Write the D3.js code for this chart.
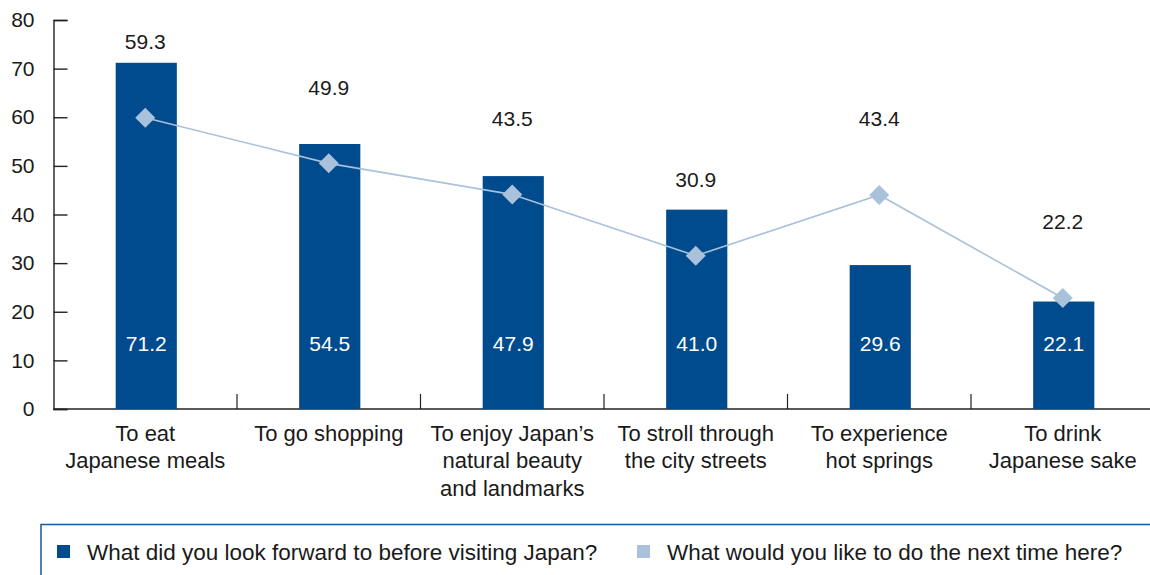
<!DOCTYPE html>
<html>
<head>
<meta charset="utf-8">
<script src="https://cdn.jsdelivr.net/npm/d3@7"></script>
<style>
  body { margin: 0; background: #fff; }
  svg text { font-family: "Liberation Sans", Arial, sans-serif; fill: #1a1a1a; }
</style>
</head>
<body>
<div id="chart"></div>
<script>
// categories (multi-line labels)
const categories = [
    ["To eat", "Japanese meals"],
    ["To go shopping"],
    ["To enjoy Japan\u2019s", "natural beauty", "and landmarks"],
    ["To stroll through", "the city streets"],
    ["To experience", "hot springs"],
    ["To drink", "Japanese sake"]
];
const beforeVisit = [71.2, 54.5, 47.9, 41.0, 29.6, 22.1];
const nextTime = [59.3, 49.9, 43.5, 30.9, 43.4, 22.2];
const yTicks = [0, 10, 20, 30, 40, 50, 60, 70, 80];
const seriesNames = ["What did you look forward to before visiting Japan?", "What would you like to do the next time here?"];

const barColor = "#004b8d",
    lineColor = "#a9c1da";

var width = 1150, height = 575;

const svg = d3.select("#chart").append("svg")
    .attr("width", width)
    .attr("height", height);

var x = d3.scaleBand()
    .range([53.5, 1154.5])
    .domain(d3.range(categories.length));

var y = d3.scaleLinear()
    .range([409, 20])
    .domain([0, 80]);

// y axis, ticks pointing inwards
const yAxis = svg.append("g")
    .attr("transform", "translate(53.5,0)")
    .call(d3.axisLeft(y).tickValues(yTicks).tickSize(-14).tickFormat(d3.format("d")));
yAxis.select(".domain").attr("stroke", "#222").attr("stroke-width", 1.4);
yAxis.selectAll(".tick line").attr("stroke", "#222").attr("stroke-width", 1.4);
yAxis.selectAll(".tick text").attr("font-size", 21).attr("fill", "#1a1a1a")
    .attr("text-anchor", "end").attr("x", -19);

// x axis line + separator ticks
svg.append("line")
    .attr("x1", 53.5).attr("x2", width)
    .attr("y1", y(0)).attr("y2", y(0))
    .attr("stroke", "#222").attr("stroke-width", 1.4);

svg.selectAll(".sep")
    .data(d3.range(1, categories.length))
    .enter()
    .append("line")
    .attr("x1", d => x(d)).attr("x2", d => x(d))
    .attr("y1", y(0) - 15).attr("y2", y(0))
    .attr("stroke", "#222").attr("stroke-width", 1.2);

// bars
const barW = x.bandwidth() / 3;
svg.selectAll(".bar")
    .data(beforeVisit)
    .enter()
    .append("rect")
    .attr("class", "bar")
    .attr("x", (d, i) => x(i) + x.bandwidth() / 2 - barW / 2 + 1)
    .attr("width", barW)
    .attr("y", d => y(d))
    .attr("height", d => y(0) - y(d))
    .attr("fill", barColor);

// value labels inside bars
svg.selectAll(".barlabel")
    .data(beforeVisit)
    .enter()
    .append("text")
    .attr("x", (d, i) => x(i) + x.bandwidth() / 2 + 1)
    .attr("y", y(13.4))
    .attr("dy", "0.35em")
    .attr("text-anchor", "middle")
    .attr("font-size", 21)
    .style("fill", "#fff")
    .text(d => d.toFixed(1));

// line series
const cx = i => x(i) + x.bandwidth() / 2;
svg.append("path")
    .datum(nextTime)
    .attr("fill", "none")
    .attr("stroke", lineColor)
    .attr("stroke-width", 1.6)
    .attr("d", d3.line().x((d, i) => cx(i)).y(d => y(d) - 3));

svg.selectAll(".marker")
    .data(nextTime)
    .enter()
    .append("path")
    .attr("d", d3.symbol().type(d3.symbolSquare).size(200))
    .attr("transform", (d, i) => "translate(" + cx(i) + "," + (y(d) - 3) + ") rotate(45)")
    .attr("fill", lineColor);

// line labels, placed well above the points
svg.selectAll(".linelabel")
    .data(nextTime)
    .enter()
    .append("text")
    .attr("x", (d, i) => cx(i))
    .attr("y", d => y(d) - 79)
    .attr("dy", "0.35em")
    .attr("text-anchor", "middle")
    .attr("font-size", 21)
    .text(d => d.toFixed(1));

// category labels
const cat = svg.selectAll(".cat")
    .data(categories)
    .enter()
    .append("text")
    .attr("text-anchor", "middle")
    .attr("font-size", 22)
    .attr("transform", (d, i) => "translate(" + cx(i) + ",433)");
cat.selectAll("tspan")
    .data(d => d)
    .enter()
    .append("tspan")
    .attr("x", 0)
    .attr("y", (d, i) => i * 27.5)
    .attr("dy", "0.35em")
    .text(d => d);

// legend box
svg.append("path")
    .attr("d", "M41,576 V524.5 H" + width)
    .attr("fill", "none")
    .attr("stroke", "#1a56a0")
    .attr("stroke-width", 1.5);

const legendX = [57, 637];
const legend = svg.selectAll(".legend")
    .data(seriesNames)
    .enter()
    .append("g")
    .attr("transform", (d, i) => "translate(" + legendX[i] + ",552)");
legend.append("rect")
    .attr("x", 0).attr("y", -7)
    .attr("width", 13).attr("height", 13)
    .attr("fill", (d, i) => i === 0 ? barColor : lineColor);
legend.append("text")
    .attr("x", 30)
    .attr("dy", "0.35em")
    .attr("font-size", 22.5)
    .text(d => d);
</script>
</body>
</html>
